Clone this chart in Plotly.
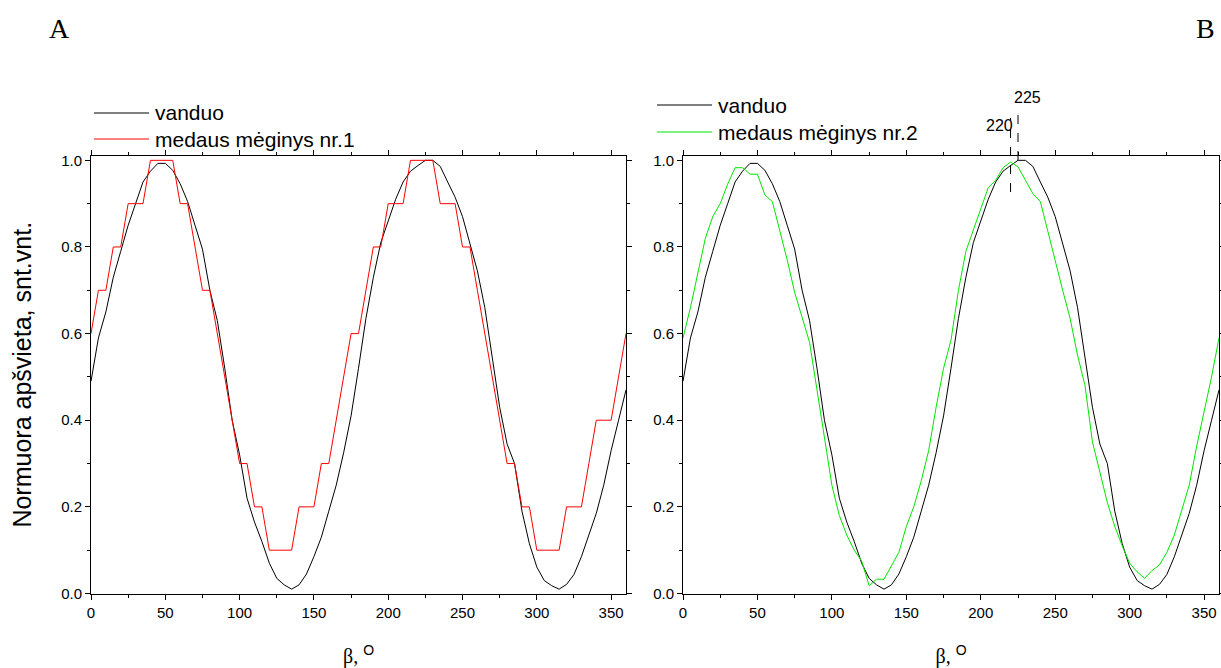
import plotly.graph_objects as go

beta = list(range(0, 361, 5))

vanduo = [0.49, 0.59, 0.65, 0.73, 0.79, 0.85, 0.90, 0.95, 0.975, 0.993,
          0.993, 0.977, 0.946, 0.905, 0.85, 0.795, 0.70, 0.63, 0.52, 0.40,
          0.32, 0.22, 0.165, 0.12, 0.07, 0.035, 0.02, 0.01, 0.02, 0.045,
          0.085, 0.13, 0.19, 0.25, 0.325, 0.41, 0.52, 0.635, 0.73, 0.81,
          0.86, 0.91, 0.95, 0.975, 0.988, 1.0, 1.0, 0.986, 0.95, 0.915,
          0.87, 0.81, 0.745, 0.66, 0.54, 0.43, 0.345, 0.30, 0.19, 0.115,
          0.061, 0.03, 0.018, 0.01, 0.021, 0.044, 0.085, 0.135, 0.185, 0.25,
          0.33, 0.40, 0.47]

medus1 = [0.6, 0.7, 0.7, 0.8, 0.8, 0.9, 0.9, 0.9, 1.0, 1.0,
          1.0, 1.0, 0.9, 0.9, 0.8, 0.7, 0.7, 0.6, 0.5, 0.4,
          0.3, 0.3, 0.2, 0.2, 0.1, 0.1, 0.1, 0.1, 0.2, 0.2,
          0.2, 0.3, 0.3, 0.4, 0.5, 0.6, 0.6, 0.7, 0.8, 0.8,
          0.9, 0.9, 0.9, 1.0, 1.0, 1.0, 1.0, 0.9, 0.9, 0.9,
          0.8, 0.8, 0.7, 0.6, 0.5, 0.4, 0.3, 0.3, 0.2, 0.2,
          0.1, 0.1, 0.1, 0.1, 0.2, 0.2, 0.2, 0.3, 0.4, 0.4,
          0.4, 0.5, 0.6]

medus2 = [0.59, 0.66, 0.74, 0.82, 0.87, 0.90, 0.945, 0.983, 0.983, 0.968,
          0.968, 0.92, 0.905, 0.84, 0.77, 0.695, 0.64, 0.58, 0.47, 0.36,
          0.25, 0.18, 0.135, 0.10, 0.075, 0.018, 0.033, 0.033, 0.065, 0.095,
          0.155, 0.20, 0.26, 0.33, 0.43, 0.52, 0.585, 0.70, 0.79, 0.84,
          0.89, 0.937, 0.954, 0.983, 0.996, 0.985, 0.954, 0.923, 0.905, 0.835,
          0.765, 0.70, 0.635, 0.55, 0.48, 0.35, 0.28, 0.21, 0.155, 0.11,
          0.07, 0.05, 0.035, 0.053, 0.066, 0.095, 0.135, 0.19, 0.25, 0.34,
          0.42, 0.50, 0.59]

x_ticks = [0, 50, 100, 150, 200, 250, 300, 350]
y_ticks = [0.0, 0.2, 0.4, 0.6, 0.8, 1.0]
marks = [220, 225]
legend_left = [("vanduo", "black"), ("medaus mėginys nr.1", "#ff0000")]
legend_right = [("vanduo", "black"), ("medaus mėginys nr.2", "#00e600")]

W, H = 1221, 668
FONT = "Liberation Sans, Arial, sans-serif"
SERIF = "Liberation Serif, Times New Roman, serif"

fig = go.Figure()
fig.add_trace(go.Scatter(x=beta, y=vanduo, mode="lines", name=legend_left[0][0],
                         line=dict(color=legend_left[0][1], width=1), xaxis="x", yaxis="y"))
fig.add_trace(go.Scatter(x=beta, y=medus1, mode="lines", name=legend_left[1][0],
                         line=dict(color=legend_left[1][1], width=1), xaxis="x", yaxis="y"))
fig.add_trace(go.Scatter(x=beta, y=vanduo, mode="lines", name=legend_right[0][0],
                         line=dict(color=legend_right[0][1], width=1), xaxis="x2", yaxis="y2"))
fig.add_trace(go.Scatter(x=beta, y=medus2, mode="lines", name=legend_right[1][0],
                         line=dict(color=legend_right[1][1], width=1), xaxis="x2", yaxis="y2"))

def py(px):
    return (H - px) / H

ydom = [py(593.5), py(156)]
xdom1 = [91 / W, 626 / W]
xdom2 = [683 / W, 1219 / W]

xtitle = dict(text="β, <sup><span style='font-family:Liberation Sans'>O</span></sup>",
              font=dict(size=20, family=SERIF, color="black"), standoff=30)

def xaxis(dom, anchor):
    return dict(domain=dom, anchor=anchor, range=[0, 360], tickvals=x_ticks,
                ticks="outside", ticklen=5, tickwidth=1, tickcolor="black",
                showline=True, linecolor="black", linewidth=1, mirror="ticks",
                showgrid=False, zeroline=False, automargin=False,
                minor=dict(dtick=25, tick0=0, ticks="outside", ticklen=3, tickcolor="black", showgrid=False),
                tickfont=dict(size=15, family=FONT, color="black"), title=xtitle)

def yaxis(anchor, title=None):
    d = dict(domain=ydom, anchor=anchor, range=[0, 1.01], tickvals=y_ticks,
             tickformat=".1f", ticks="outside", ticklen=5, tickwidth=1, tickcolor="black",
             showline=True, linecolor="black", linewidth=1, mirror="ticks",
             showgrid=False, zeroline=False, automargin=False,
             minor=dict(dtick=0.1, tick0=0, ticks="outside", ticklen=3, tickcolor="black", showgrid=False),
             tickfont=dict(size=15, family=FONT, color="black"))
    if title:
        d["title"] = dict(text=title, font=dict(size=25, family=FONT, color="black"), standoff=22)
    return d

fig.update_layout(
    width=W, height=H, margin=dict(l=0, r=0, t=0, b=0, autoexpand=False),
    paper_bgcolor="white", plot_bgcolor="white",
    showlegend=False,
    xaxis=xaxis(xdom1, "y"), yaxis=yaxis("x", "Normuora apšvieta, snt.vnt."),
    xaxis2=xaxis(xdom2, "y2"), yaxis2=yaxis("x2"),
)

# legends drawn as line samples + labels
legfont = dict(size=21, family=FONT, color="black")
for (name, color), ypx in zip(legend_left, [113, 139]):
    fig.add_shape(type="line", xref="paper", yref="paper", x0=94 / W, x1=149 / W,
                  y0=py(ypx), y1=py(ypx), line=dict(color=color, width=1))
    fig.add_annotation(text=name, xref="paper", yref="paper", x=153 / W, y=py(ypx),
                       xanchor="left", yanchor="middle", showarrow=False, font=legfont)
for (name, color), ypx in zip(legend_right, [105, 132]):
    fig.add_shape(type="line", xref="paper", yref="paper", x0=657 / W, x1=712 / W,
                  y0=py(ypx), y1=py(ypx), line=dict(color=color, width=1))
    fig.add_annotation(text=name, xref="paper", yref="paper", x=716 / W, y=py(ypx),
                       xanchor="left", yanchor="middle", showarrow=False, font=legfont)

# dashed reference lines on the right panel
fig.add_shape(type="line", xref="x2", yref="paper", x0=marks[0], x1=marks[0],
              y0=py(192), y1=py(118), line=dict(color="black", width=1, dash="dash"))
fig.add_shape(type="line", xref="x2", yref="paper", x0=marks[1], x1=marks[1],
              y0=py(160), y1=py(108), line=dict(color="black", width=1, dash="dash"))
fig.add_annotation(text=str(marks[0]), xref="x2", yref="paper", x=marks[0], y=py(126),
                   xanchor="right", yanchor="middle", showarrow=False, xshift=4,
                   font=dict(size=16, family=FONT, color="black"))
fig.add_annotation(text=str(marks[1]), xref="x2", yref="paper", x=marks[1], y=py(97),
                   xanchor="left", yanchor="middle", showarrow=False, xshift=-6,
                   font=dict(size=16, family=FONT, color="black"))

# panel letters
fig.add_annotation(text="A", xref="paper", yref="paper", x=59 / W, y=py(28),
                   xanchor="center", yanchor="middle",
                   showarrow=False, font=dict(size=28, family=SERIF, color="black"))
fig.add_annotation(text="B", xref="paper", yref="paper", x=1205 / W, y=py(28),
                   xanchor="center", yanchor="middle",
                   showarrow=False, font=dict(size=28, family=SERIF, color="black"))

fig.write_html("out.html", config={"displayModeBar": False},
               post_script="document.body.style.margin='0';document.body.style.overflow='hidden';")
